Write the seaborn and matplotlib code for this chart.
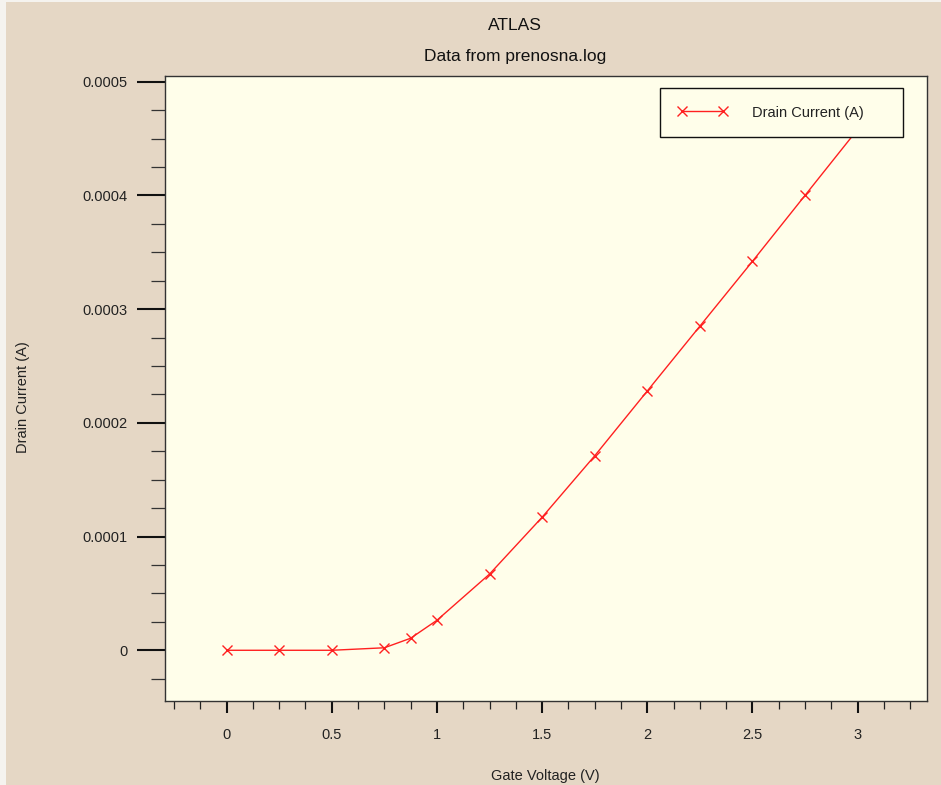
import matplotlib
matplotlib.use("Agg")
import matplotlib.pyplot as plt
import seaborn as sns
import pandas as pd
from matplotlib.ticker import MultipleLocator, FuncFormatter
from matplotlib.patches import Rectangle

gate_voltage = [0.0, 0.25, 0.5, 0.75, 0.875, 1.0, 1.25, 1.5, 1.75, 2.0, 2.25, 2.5, 2.75, 3.0]
drain_current = [0.0, 0.0, 0.0, 2.2e-6, 1.06e-5, 2.64e-5, 6.7e-5, 1.17e-4, 1.71e-4,
                 2.28e-4, 2.85e-4, 3.42e-4, 4.0e-4, 4.58e-4]
series_label = "Drain Current (A)"
title_main = "ATLAS"
title_sub = "Data from prenosna.log"
x_label = "Gate Voltage (V)"
y_label = "Drain Current (A)"

df = pd.DataFrame({"Gate Voltage (V)": gate_voltage, "Drain Current (A)": drain_current})

sns.set_style("white")
plt.rcParams['font.family'] = ['Liberation Sans', 'DejaVu Sans']

W, H = 941, 785
fig = plt.figure(figsize=(W / 100, H / 100), dpi=100, facecolor="#e5d7c5")
# light window border strips
fig.patches.append(Rectangle((0, 0), 6 / W, 1, transform=fig.transFigure,
                             facecolor="#f5f3ef", edgecolor="none", zorder=0))
fig.patches.append(Rectangle((0, 1 - 2 / H), 1, 2 / H, transform=fig.transFigure,
                             facecolor="#f5f3ef", edgecolor="none", zorder=0))

ax = fig.add_axes([165 / W, 1 - 701 / H, (927 - 165) / W, (701 - 76) / H])
ax.set_facecolor("#fffeea")

sns.lineplot(data=df, x="Gate Voltage (V)", y="Drain Current (A)", ax=ax,
             color="#ff2020", linewidth=1.0, marker="x", markersize=7,
             markeredgewidth=1.0, markeredgecolor="#ff2020", label=series_label,
             zorder=3)

ax.set_xlim(-0.293, 3.33)
ax.set_ylim(-0.446e-4, 5.05e-4)

ax.xaxis.set_major_locator(MultipleLocator(0.5))
ax.xaxis.set_minor_locator(MultipleLocator(0.125))
ax.yaxis.set_major_locator(MultipleLocator(1e-4))
ax.yaxis.set_minor_locator(MultipleLocator(2.5e-5))
ax.xaxis.set_major_formatter(FuncFormatter(lambda v, p: "%g" % round(v, 6)))
ax.yaxis.set_major_formatter(FuncFormatter(lambda v, p: "%g" % round(v, 8)))

ax.tick_params(which="both", bottom=True, left=True, top=False, right=False)
ax.tick_params(axis="x", which="major", direction="out", length=8.6, width=1.5,
               color="#111111", pad=11, labelsize=10.5, labelcolor="#222222")
ax.tick_params(axis="x", which="minor", direction="out", length=5.8, width=0.9,
               color="#222222")
ax.tick_params(axis="y", which="major", direction="out", length=20, width=1.5,
               color="#111111", pad=7, labelsize=10.5, labelcolor="#222222")
ax.tick_params(axis="y", which="minor", direction="out", length=10, width=0.9,
               color="#333333")

for s in ax.spines.values():
    s.set_color("#333333")
    s.set_linewidth(1.0)

ax.set_xlabel("")
ax.set_ylabel("")
fig.text(545 / W, 1 - 776 / H, x_label, ha="center", va="center",
         fontsize=10.5, color="#222222")
fig.text(23 / W, 1 - 397 / H, y_label, ha="center", va="center", rotation=90,
         fontsize=10.5, color="#222222")
fig.text(514.5 / W, 1 - 25 / H, title_main, ha="center", va="center",
         fontsize=12.5, color="#111111")
fig.text(515 / W, 1 - 57 / H, title_sub, ha="center", va="center",
         fontsize=12.5, color="#111111")

x0 = (660 - 165) / 762
x1 = (903 - 165) / 762
yb = (701 - 137) / 625
yt = (701 - 88) / 625
leg = ax.legend(loc="lower left", bbox_to_anchor=(x0, yb, x1 - x0, yt - yb),
                mode="expand", borderaxespad=0, fancybox=False, framealpha=1,
                facecolor="#fffeea", edgecolor="#111111", numpoints=2,
                handlelength=3.4, handletextpad=1.7, borderpad=1.2,
                fontsize=10.5)
leg.get_frame().set_linewidth(1.0)
for t in leg.get_texts():
    t.set_color("#222222")
leg.set_zorder(5)

fig.savefig("out.png", dpi=100, facecolor=fig.get_facecolor())
